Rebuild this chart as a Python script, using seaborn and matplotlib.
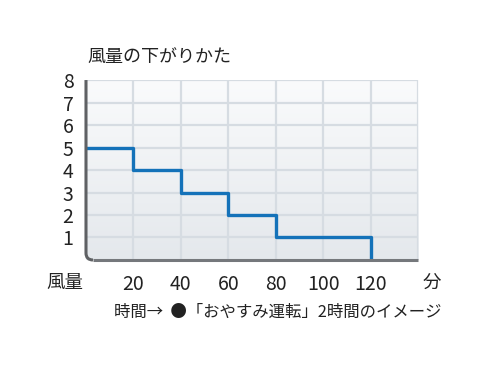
import numpy as np
import pandas as pd
import matplotlib
matplotlib.use("Agg")
import matplotlib.pyplot as plt
import seaborn as sns
from matplotlib.colors import LinearSegmentedColormap
from matplotlib.path import Path
from matplotlib.patches import PathPatch

# data
minutes = [0, 20, 40, 60, 80, 120]
fan_level = [5, 4, 3, 2, 1, 0]
x_ticks = [20, 40, 60, 80, 100, 120]
y_ticks = [1, 2, 3, 4, 5, 6, 7, 8]
title_text = "風量の下がりかた"
ylabel_text = "風量"
xunit_text = "分"
caption_text = "時間→  ●「おやすみ運転」2時間のイメージ"

sns.set_theme(style="white")
plt.rcParams['font.family'] = ['Noto Sans CJK JP', 'DejaVu Sans']

fig = plt.figure(figsize=(4.9, 3.68), dpi=100)
fig.patch.set_facecolor("white")
ax = fig.add_axes([0.1755, 0.2935, 0.6776, 0.489])

# gradient background (light at top, bluish grey at bottom)
grad = np.linspace(0, 1, 256).reshape(-1, 1)
cmap = LinearSegmentedColormap.from_list("bg", ["#e4e8ec", "#fafbfc"])
ax.imshow(grad, extent=[0, 140, 0, 8], origin="lower", aspect="auto",
          cmap=cmap, zorder=0)
ax.set_xlim(0, 140)
ax.set_ylim(0, 8)

# grid
for gx in range(20, 141, 20):
    ax.axvline(gx, color="#d6dce2", lw=1.6, zorder=1)
for gy in range(1, 9):
    ax.axhline(gy, color="#d6dce2", lw=1.6, zorder=1)

df = pd.DataFrame({"minutes": minutes, "level": fan_level})
sns.lineplot(data=df, x="minutes", y="level", drawstyle="steps-post",
             color="#1472b9", lw=2.4, ax=ax, zorder=3,
             solid_joinstyle="round", solid_capstyle="butt")

ax.set_xlabel("")
ax.set_ylabel("")
ax.set_xticks(x_ticks)
ax.set_xticklabels([str(v) for v in x_ticks])
ax.set_yticks(y_ticks)
ax.set_yticklabels([str(v) for v in y_ticks])
ax.tick_params(axis="both", length=0, labelsize=14, colors="#222222")
ax.tick_params(axis="x", pad=10)
ax.tick_params(axis="y", pad=9)

for s in ["top", "right", "left", "bottom"]:
    ax.spines[s].set_visible(False)

# axis lines with rounded bottom-left corner
rx, ry = 7 / 332, 7 / 180
left_path = Path([(0, 1), (0, ry), (0, 0), (rx, 0)],
                 [Path.MOVETO, Path.LINETO, Path.CURVE3, Path.CURVE3])
ax.add_patch(PathPatch(left_path, transform=ax.transAxes, fill=False,
                       edgecolor="#5f6164", lw=2.2, clip_on=False, zorder=4))
bottom_path = Path([(rx, 0), (1, 0)], [Path.MOVETO, Path.LINETO])
ax.add_patch(PathPatch(bottom_path, transform=ax.transAxes, fill=False,
                       edgecolor="#75787c", lw=2.2, clip_on=False, zorder=4))

fig.text(0.178, 0.845, title_text, fontsize=13, color="#222222", va="center", ha="left")
fig.text(0.133, 0.232, ylabel_text, fontsize=13.3, color="#222222", va="center", ha="center")
fig.text(0.882, 0.232, xunit_text, fontsize=13.3, color="#222222", va="center", ha="center")
fig.text(0.232, 0.150, caption_text, fontsize=11.8, color="#222222", va="center", ha="left")

fig.savefig("out.png", dpi=100, facecolor="white")
